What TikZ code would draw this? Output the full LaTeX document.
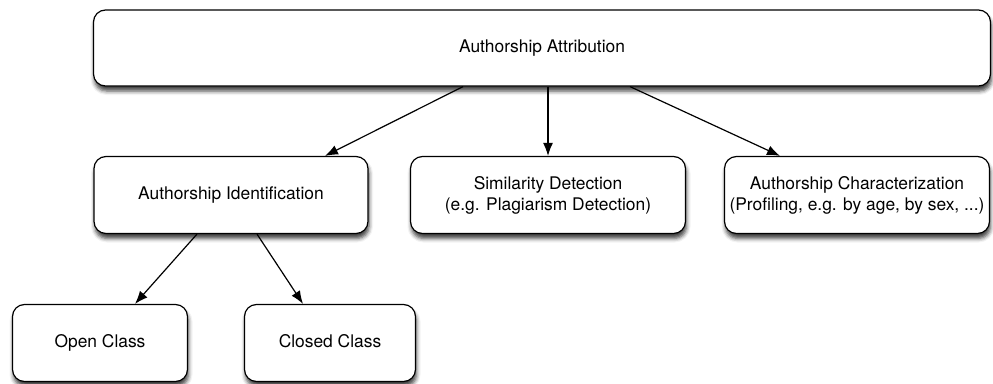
\documentclass[tikz,border=0pt]{standalone}
\usepackage{fontspec}
\setmainfont{TeX Gyre Heros}
\usetikzlibrary{arrows.meta,shadows.blur}

\tikzset{
  box/.style={draw=black, line width=1.2pt, fill=white, rounded corners=12pt,
    align=center, inner sep=0pt, minimum height=77pt,
    font=\fontsize{17.4}{21}\selectfont,
    blur shadow={shadow xshift=1pt, shadow yshift=-5pt,
      shadow blur radius=4pt, shadow opacity=75}},
  oneline/.style={text height=12.5pt, text depth=3.5pt},
  arr/.style={-{Latex[length=13pt,width=10pt]}, line width=1.2pt},
}

\begin{document}
\begin{tikzpicture}[x=1pt, y=-1pt]
    \useasboundingbox (0,0) rectangle (993,383);

    % Root
    \node[box, oneline, minimum width=897pt, minimum height=76pt] (attr) at (542,48) {Authorship Attribution};

    % Second level
    \node[box, oneline, minimum width=274pt] (ident) at (231,195) {Authorship Identification};
    \node[box, minimum width=275pt] (simil) at (548,195) {Similarity Detection\\(e.g. Plagiarism Detection)};
    \node[box, minimum width=265pt] (charac) at (857,195) {Authorship Characterization\\(Profiling, e.g. by age, by sex, ...)};

    % Third level
    \node[box, oneline, minimum width=175pt] (open) at (100,343) {Open Class};
    \node[box, oneline, minimum width=171pt] (closed) at (330,343) {Closed Class};

    % Arrows
    \draw[arr] (attr.south -| 463,0) -- (ident.north -| 325,0);
    \draw[arr] (attr.south -| 548,0) -- (simil.north);
    \draw[arr] (attr.south -| 630,0) -- (charac.north -| 780,0);
    \draw[arr] (ident.south -| 197,0) -- (open.north -| 135,0);
    \draw[arr] (ident.south -| 257,0) -- (closed.north -| 303,0);
\end{tikzpicture}
\end{document}
